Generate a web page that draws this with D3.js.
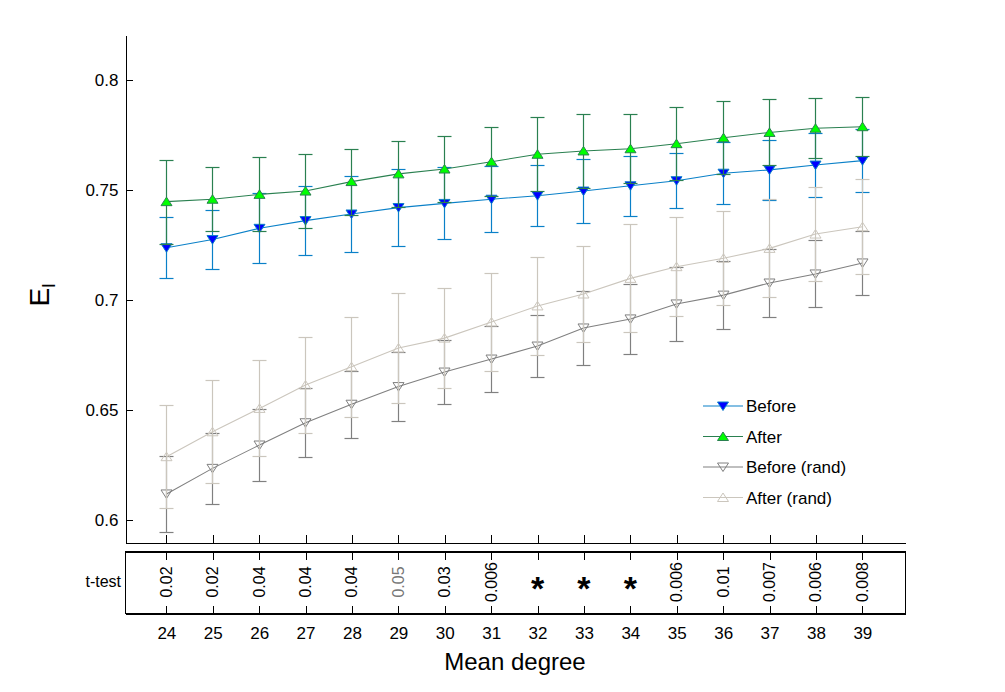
<!DOCTYPE html>
<html>
<head>
<meta charset="utf-8">
<script src="https://cdn.jsdelivr.net/npm/d3@7"></script>
<style>
    body { margin: 0; background: #fff; }
    text { font-family: Arial, "Liberation Sans", Helvetica, sans-serif; fill: #000; }
    .axis path, .axis line { stroke: #000; shape-rendering: crispEdges; }
    .axis text { font-size: 17px; }
</style>
</head>
<body>
<div id="chart"></div>
<script>

// mean degree (x)
let degrees = [24, 25, 26, 27, 28, 29, 30, 31, 32, 33, 34, 35, 36, 37, 38, 39];

// E_l, original network, before / after
let beforeMean = [0.7235, 0.7272, 0.7323, 0.7358, 0.7388, 0.7417, 0.7436, 0.7455, 0.7471, 0.7492, 0.7516, 0.7539, 0.7573, 0.7588, 0.7610, 0.7630];
let beforeErr  = [0.0138, 0.0134, 0.0159, 0.0157, 0.0174, 0.0175, 0.0163, 0.0150, 0.0139, 0.0147, 0.0135, 0.0126, 0.0141, 0.0136, 0.0147, 0.0144];
let afterMean  = [0.7444, 0.7455, 0.7477, 0.7492, 0.7535, 0.7570, 0.7592, 0.7625, 0.7659, 0.7674, 0.7684, 0.7707, 0.7734, 0.7758, 0.7777, 0.7784];
let afterErr   = [0.0190, 0.0145, 0.0168, 0.0168, 0.0150, 0.0150, 0.0148, 0.0156, 0.0168, 0.0166, 0.0156, 0.0165, 0.0165, 0.0150, 0.0136, 0.0133];

// E_l, randomised network, before / after
let beforeRandMean = [0.6118, 0.6234, 0.6340, 0.6441, 0.6525, 0.6605, 0.6671, 0.6730, 0.6789, 0.6871, 0.6912, 0.6980, 0.7020, 0.7075, 0.7116, 0.7166];
let beforeRandErr  = [0.0174, 0.0162, 0.0165, 0.0156, 0.0153, 0.0157, 0.0145, 0.0150, 0.0141, 0.0168, 0.0159, 0.0168, 0.0154, 0.0154, 0.0152, 0.0145];
let afterRandMean  = [0.6287, 0.6400, 0.6506, 0.6612, 0.6695, 0.6780, 0.6825, 0.6898, 0.6971, 0.7025, 0.7096, 0.7149, 0.7187, 0.7232, 0.7297, 0.7330];
let afterRandErr   = [0.0233, 0.0233, 0.0218, 0.0218, 0.0226, 0.0250, 0.0227, 0.0222, 0.0222, 0.0218, 0.0245, 0.0224, 0.0213, 0.0222, 0.0215, 0.0215];

// t-test p-values, "*" where it is smaller
let tTestLabels = ["0.02", "0.02", "0.04", "0.04", "0.04", "0.05", "0.03", "0.006", "*", "*", "*", "0.006", "0.01", "0.007", "0.006", "0.008"];

let yTicks = [0.6, 0.65, 0.7, 0.75, 0.8];
let seriesNames = ["Before", "After", "Before (rand)", "After (rand)"];


class ErrorBarVis {

    constructor(parentElement){
        this.parentElement = parentElement;
        this.initVis();
    }

    initVis(){
        let vis = this;

        vis.width = 1005;
        vis.height = 692;
        vis.plot = {left: 125, right: 905, top: 35, bottom: 542};
        vis.box = {top: 551, bottom: 613};

        vis.svg = d3.select("#" + vis.parentElement).append("svg")
            .attr("width", vis.width)
            .attr("height", vis.height);

        // scales
        vis.x = d3.scaleLinear()
            .domain([23.12, 39.93])
            .range([vis.plot.left, vis.plot.right]);

        vis.y = d3.scaleLinear()
            .domain([0.59, 0.82])
            .range([vis.plot.bottom, vis.plot.top]);

        vis.series = [
            {name: seriesNames[0], mean: beforeMean, err: beforeErr, line: "#0a80c8", fill: "#0000ff", down: true},
            {name: seriesNames[1], mean: afterMean, err: afterErr, line: "#2a8050", fill: "#00ff00", down: false},
            {name: seriesNames[2], mean: beforeRandMean, err: beforeRandErr, line: "#808080", fill: "none", down: true},
            {name: seriesNames[3], mean: afterRandMean, err: afterRandErr, line: "#cbc6bd", fill: "none", down: false}
        ];

        vis.drawAxes();
        vis.drawSeries();
        vis.drawTTest();
        vis.drawLegend();
    }

    drawAxes(){
        let vis = this;

        // y axis, ticks inward
        vis.svg.append("g")
            .attr("class", "axis y-axis")
            .attr("transform", `translate(${vis.plot.left + 0.5}, 0.5)`)
            .call(d3.axisLeft(vis.y)
                .tickValues(yTicks)
                .tickFormat(d3.format("~g"))
                .tickSizeInner(-7)
                .tickSizeOuter(0)
                .tickPadding(7));

        // bottom of main axes, no labels
        vis.svg.append("g")
            .attr("class", "axis x-axis")
            .attr("transform", `translate(0.5, ${vis.plot.bottom + 0.5})`)
            .call(d3.axisBottom(vis.x)
                .tickValues(degrees)
                .tickFormat("")
                .tickSizeInner(-8)
                .tickSizeOuter(0));

        vis.svg.selectAll(".axis path").attr("fill", "none");

        vis.svg.append("text")
            .attr("transform", `translate(49, 295) rotate(-90)`)
            .attr("text-anchor", "middle")
            .style("font-size", "28px")
            .text("E")
            .append("tspan")
            .attr("dy", 6)
            .style("font-size", "19px")
            .text("l");

        vis.svg.append("text")
            .attr("x", (vis.plot.left + vis.plot.right) / 2)
            .attr("y", 670)
            .attr("text-anchor", "middle")
            .style("font-size", "24px")
            .text("Mean degree");
    }

    trianglePath(down){
        return down ? "M0,4.5L5.5,-4L-5.5,-4Z" : "M0,-4.5L5.5,4L-5.5,4Z";
    }

    drawSeries(){
        let vis = this;
        let cap = 7;
        // snap bar lines to the pixel grid
        let px = v => Math.round(v) + 0.5;

        vis.series.forEach(s => {
            let pts = degrees.map((d, i) => ({x: d, m: s.mean[i], e: s.err[i]}));
            let g = vis.svg.append("g").attr("class", "series");

            // error bars
            let bars = g.selectAll(".bar")
                .data(pts)
                .enter()
                .append("g")
                .attr("class", "bar")
                .attr("stroke", s.line)
                .attr("stroke-width", 1.2);

            bars.append("line")
                .attr("x1", d => px(vis.x(d.x))).attr("x2", d => px(vis.x(d.x)))
                .attr("y1", d => px(vis.y(d.m - d.e))).attr("y2", d => px(vis.y(d.m + d.e)));
            bars.append("line")
                .attr("x1", d => px(vis.x(d.x)) - cap).attr("x2", d => px(vis.x(d.x)) + cap)
                .attr("y1", d => px(vis.y(d.m + d.e))).attr("y2", d => px(vis.y(d.m + d.e)));
            bars.append("line")
                .attr("x1", d => px(vis.x(d.x)) - cap).attr("x2", d => px(vis.x(d.x)) + cap)
                .attr("y1", d => px(vis.y(d.m - d.e))).attr("y2", d => px(vis.y(d.m - d.e)));

            // mean line
            g.append("path")
                .datum(pts)
                .attr("fill", "none")
                .attr("stroke", s.line)
                .attr("stroke-width", 1.1)
                .attr("d", d3.line().x(d => px(vis.x(d.x))).y(d => vis.y(d.m)));

            // markers
            g.selectAll(".marker")
                .data(pts)
                .enter()
                .append("path")
                .attr("class", "marker")
                .attr("transform", d => `translate(${px(vis.x(d.x))}, ${vis.y(d.m)})`)
                .attr("d", vis.trianglePath(s.down))
                .attr("fill", s.fill)
                .attr("stroke", s.line)
                .attr("stroke-width", 1);
        });
    }

    drawTTest(){
        let vis = this;

        vis.svg.append("rect")
            .attr("x", vis.plot.left + 0.5)
            .attr("y", vis.box.top + 0.5)
            .attr("width", vis.plot.right - vis.plot.left)
            .attr("height", vis.box.bottom - vis.box.top)
            .attr("fill", "none")
            .attr("stroke", "#000")
            .attr("shape-rendering", "crispEdges");

        vis.svg.append("g")
            .attr("class", "axis")
            .attr("transform", `translate(0.5, ${vis.box.top + 0.5})`)
            .call(d3.axisTop(vis.x)
                .tickValues(degrees)
                .tickFormat("")
                .tickSizeInner(-8)
                .tickSizeOuter(0));

        vis.svg.append("g")
            .attr("class", "axis x-labels")
            .attr("transform", `translate(0.5, ${vis.box.bottom + 0.5})`)
            .call(d3.axisBottom(vis.x)
                .tickValues(degrees)
                .tickFormat(d3.format("d"))
                .tickSizeInner(-8)
                .tickSizeOuter(0)
                .tickPadding(13));

        vis.svg.selectAll(".axis path").attr("fill", "none");

        vis.svg.append("text")
            .attr("x", 121)
            .attr("y", 587)
            .attr("text-anchor", "end")
            .style("font-size", "16px")
            .text("t-test");

        let mid = (vis.box.top + vis.box.bottom) / 2;

        vis.svg.selectAll(".pval")
            .data(degrees.map((d, i) => ({x: d, label: tTestLabels[i]})))
            .enter()
            .append("text")
            .attr("class", "pval")
            .attr("text-anchor", "middle")
            .attr("transform", d => d.label === "*"
                ? `translate(${vis.x(d.x) + 0.5}, ${mid + 18})`
                : `translate(${vis.x(d.x) + 6}, ${mid}) rotate(-90)`)
            .style("font-size", d => d.label === "*" ? "34px" : "16px")
            .style("font-weight", d => d.label === "*" ? "bold" : "normal")
            .style("fill", d => d.label === "0.05" ? "#777" : "#000")
            .text(d => d.label);
    }

    drawLegend(){
        let vis = this;
        let lx = 703, ly = 406, step = 30.5;

        let items = vis.svg.selectAll(".legend")
            .data(vis.series)
            .enter()
            .append("g")
            .attr("class", "legend")
            .attr("transform", (d, i) => `translate(${lx}, ${ly + i * step})`);

        items.append("line")
            .attr("x1", 0).attr("x2", 40)
            .attr("y1", 0).attr("y2", 0)
            .attr("stroke", d => d.line)
            .attr("stroke-width", 1.2);

        items.append("path")
            .attr("transform", "translate(20, 0)")
            .attr("d", d => vis.trianglePath(d.down))
            .attr("fill", d => d.fill)
            .attr("stroke", d => d.line);

        items.append("text")
            .attr("x", 43)
            .attr("y", 6)
            .style("font-size", "17px")
            .text(d => d.name);
    }
}

let myErrorBarVis = new ErrorBarVis("chart");

</script>
</body>
</html>
